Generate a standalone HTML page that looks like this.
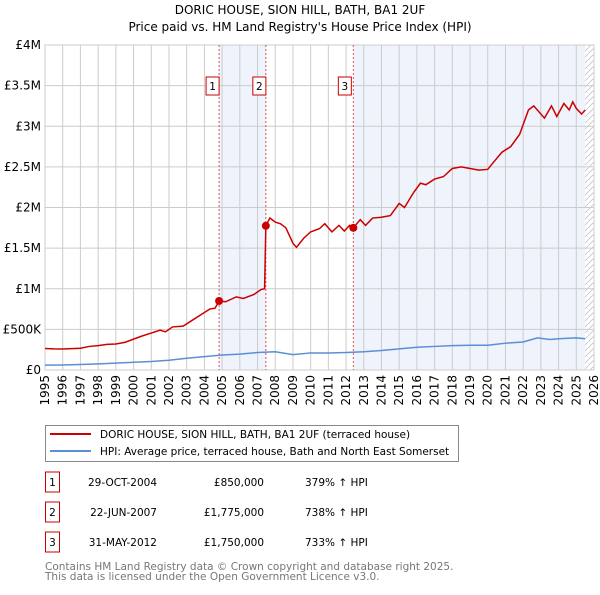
<!DOCTYPE html>
<html><head><meta charset="utf-8"><style>
body{margin:0;background:#fff;font-family:"Liberation Sans","DejaVu Sans",sans-serif}
svg text{font-family:"DejaVu Sans","Liberation Sans",sans-serif}
</style></head><body>
<svg id="c" width="600" height="590" xmlns="http://www.w3.org/2000/svg">
<text x="300" y="14" text-anchor="middle" font-size="12">DORIC HOUSE, SION HILL, BATH, BA1 2UF</text>
<text x="300" y="31" text-anchor="middle" font-size="12">Price paid vs. HM Land Registry's House Price Index (HPI)</text>
<g id="plot"></g>
<g>
<rect x="45.5" y="425.5" width="413" height="36" fill="#fff" stroke="#888"/>
<line x1="50" y1="434" x2="91" y2="434" stroke="#cc0000" stroke-width="2"/>
<text x="100" y="438" font-size="10.5">DORIC HOUSE, SION HILL, BATH, BA1 2UF (terraced house)</text>
<line x1="50" y1="451" x2="91" y2="451" stroke="#5b8fd4" stroke-width="2"/>
<text x="100" y="455" font-size="10.5">HPI: Average price, terraced house, Bath and North East Somerset</text>
</g>
<g id="tbl" font-size="10.5"></g>
<text x="45" y="570" font-size="10.5" fill="#777">Contains HM Land Registry data © Crown copyright and database right 2025.</text>
<text x="45" y="580" font-size="10.5" fill="#777">This data is licensed under the Open Government Licence v3.0.</text>
</svg>
<script>
const redYears=[1995,1995.5,1996,1997,1997.5,1998,1998.5,1999,1999.5,2000,2000.5,2001,2001.5,2001.8,2002.2,2002.8,2003.3,2003.8,2004.3,2004.6,2004.83,2005.2,2005.8,2006.2,2006.8,2007.2,2007.4,2007.47,2007.7,2008,2008.3,2008.6,2009,2009.2,2009.6,2010,2010.5,2010.8,2011.2,2011.6,2011.9,2012.2,2012.41,2012.8,2013.1,2013.5,2014,2014.5,2015,2015.3,2015.8,2016.2,2016.5,2017,2017.5,2018,2018.5,2019,2019.5,2020,2020.3,2020.8,2021.3,2021.8,2022.3,2022.6,2022.8,2023.2,2023.6,2023.9,2024.3,2024.6,2024.8,2025.0,2025.3,2025.5];
const redValues=[265,260,258,268,290,300,315,320,340,380,420,455,490,470,530,540,610,680,750,760,850,840,900,880,930,990,1000,1775,1870,1820,1800,1750,1560,1510,1620,1700,1740,1800,1700,1780,1710,1780,1750,1850,1780,1870,1880,1900,2050,2000,2180,2300,2280,2350,2380,2480,2500,2480,2460,2470,2550,2680,2750,2900,3200,3250,3200,3100,3250,3120,3280,3200,3300,3220,3150,3200];
const hpiYears=[1995,1996,1997,1998,1999,2000,2001,2002,2003,2004,2005,2006,2007,2008,2009,2010,2011,2012,2013,2014,2015,2016,2017,2018,2019,2020,2021,2022,2022.8,2023.5,2024,2025,2025.5];
const hpiValues=[60,62,68,75,85,95,105,120,145,165,185,195,215,225,190,210,210,215,225,240,260,280,290,300,305,305,330,345,395,375,385,395,385];
const saleYears=[2004.83,2007.47,2012.41];
const saleValues=[850,1775,1750];
const saleDates=["29-OCT-2004","22-JUN-2007","31-MAY-2012"];
const salePrices=["£850,000","£1,775,000","£1,750,000"];
const saleHpi=["379% ↑ HPI","738% ↑ HPI","733% ↑ HPI"];
const yTicks=[0,500,1000,1500,2000,2500,3000,3500,4000];
const yTickLabels=["£0","£500K","£1M","£1.5M","£2M","£2.5M","£3M","£3.5M","£4M"];
const NS="http://www.w3.org/2000/svg";
const L=45,R=594,T=45,B=370,Y0=1995,Y1=2026;
const x=v=>L+(v-Y0)*(R-L)/(Y1-Y0);
const y=v=>B-v*(B-T)/4000;
const g=document.getElementById('plot');
function mk(t,a,p){const e=document.createElementNS(NS,t);for(const k in a)e.setAttribute(k,a[k]);(p||g).appendChild(e);return e;}
let e;
e=mk('rect',{x:x(saleYears[0]),y:T,width:x(saleYears[1])-x(saleYears[0]),height:B-T,fill:'#eef3fc'});


e=mk('rect',{x:x(saleYears[2]),y:T,width:x(2025.5)-x(saleYears[2]),height:B-T,fill:'#eef3fc'});


e=mk('defs',{});
const pat=mk('pattern',{id:'h',width:6,height:6,patternUnits:'userSpaceOnUse'},e);
mk('path',{d:'M0,6 L6,0',stroke:'#bbb','stroke-width':0.7},pat);
e=mk('rect',{x:x(2025.5),y:T,width:R-x(2025.5),height:B-T,fill:'url(#h)'});


for(let yr=Y0;yr<=Y1;yr++){
 e=mk('line',{x1:x(yr),x2:x(yr),y1:T,y2:B,stroke:'#ccc','stroke-width':1});
 
 
 const t=mk('text',{transform:`translate(${x(yr)+4},${B+5}) rotate(-90)`,'text-anchor':'end','font-size':12});
 t.textContent=yr;
 
 
}
yTicks.forEach((v,i)=>{
 e=mk('line',{x1:L,x2:R,y1:y(v),y2:y(v),stroke:'#ccc','stroke-width':1});
 
 
 const t=mk('text',{x:L-4,y:y(v)+4,'text-anchor':'end','font-size':12});
 t.textContent=yTickLabels[i];
 
 
});
e=mk('rect',{x:L,y:T,width:R-L,height:B-T,fill:'none',stroke:'#ccc'});


saleYears.forEach((s,i)=>{
 e=mk('line',{x1:x(s),x2:x(s),y1:T,y2:B,stroke:'#e05050','stroke-dasharray':'2,2','stroke-width':1});
 
 
 e=mk('rect',{x:x(s)-13+(i==2?-2:0),y:77,width:13,height:18,fill:'#fff',stroke:'#cc0000'});
 
 
 const t=mk('text',{x:x(s)-6.5+(i==2?-2:0),y:90,'text-anchor':'middle','font-size':10.5});
 t.textContent=i+1;
 
 
});
e=mk('polyline',{points:hpiYears.map((v,i)=>x(v)+','+y(hpiValues[i])).join(' '),fill:'none',stroke:'#5b8fd4','stroke-width':1.5});


e=mk('polyline',{points:redYears.map((v,i)=>x(v)+','+y(redValues[i])).join(' '),fill:'none',stroke:'#cc0000','stroke-width':1.5});


saleYears.forEach((s,i)=>{
 e=mk('circle',{cx:x(s),cy:y(saleValues[i]),r:4,fill:'#cc0000'});
 
 
});
const tb=document.getElementById('tbl');
saleDates.forEach((d,i)=>{
 const ry=483+i*30;
 e=mk('rect',{x:45.5,y:ry-11,width:14,height:20,fill:'#fff',stroke:'#cc0000'},tb);
 
 
 let t=mk('text',{x:52.5,y:ry+3,'text-anchor':'middle'},tb);t.textContent=i+1;
 
 
 t=mk('text',{x:157,y:ry+3,'text-anchor':'end'},tb);t.textContent=d;
 
 
 t=mk('text',{x:264,y:ry+3,'text-anchor':'end'},tb);t.textContent=salePrices[i];
 
 
 t=mk('text',{x:305,y:ry+3},tb);t.textContent=saleHpi[i];
 
 
});
</script>
</body></html>
